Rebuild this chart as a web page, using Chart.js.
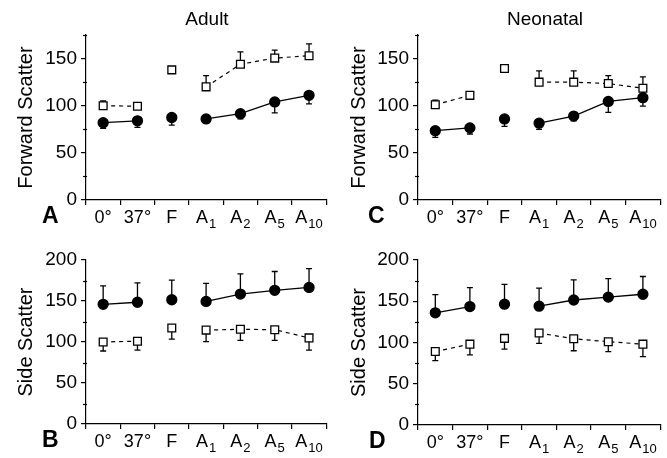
<!DOCTYPE html>
<html><head><meta charset="utf-8">
<script src="https://cdn.jsdelivr.net/npm/chart.js@4"></script>
<style>
html,body{margin:0;padding:0;background:#fff;width:667px;height:458px;overflow:hidden}
canvas{position:absolute}
</style></head><body>
<canvas id="cA" width="333" height="240" style="left:0;top:0"></canvas>
<canvas id="cC" width="334" height="240" style="left:333px;top:0"></canvas>
<canvas id="cB" width="333" height="229" style="left:0;top:229px"></canvas>
<canvas id="cD" width="334" height="229" style="left:333px;top:229px"></canvas>
<script>
// ---- data ----
const xLabels = ['0°', '37°', 'F', 'A₁', 'A₂', 'A₅', 'A₁₀'];

// Forward scatter, adult (panel A)
const fscAdultFilled = [82, 84, 87.5, 86, 91.5, 104, 111];
const fscAdultFilledErr = [6, 7, 8, 4, 5.5, 11.5, 9];
const fscAdultOpen = [100, 99.5, 138, 120, 144, 150.5, 153];
const fscAdultOpenErr = [5, 2, 0, 12, 13, 8.5, 12.5];

// Forward scatter, neonatal (panel C)
const fscNeoFilled = [73.5, 76.5, 86, 81.5, 89, 104.5, 108.5];
const fscNeoFilledErr = [7, 6.5, 8, 6.5, 5, 11.5, 9];
const fscNeoOpen = [101, 111, 139.5, 125, 125, 123.5, 118.5];
const fscNeoOpenErr = [5, 2, 0, 12, 12, 8.5, 12];

// Side scatter, adult (panel B)
const sscAdultFilled = [146, 148.5, 151.5, 149.5, 158.5, 163, 166.5];
const sscAdultFilledErr = [22.5, 23.5, 24, 22, 24.5, 23, 23];
const sscAdultOpen = [100, 101, 117, 114.5, 115.5, 115, 105];
const sscAdultOpenErr = [11, 11, 13.5, 14, 13.5, 13, 15];

// Side scatter, neonatal (panel D)
const sscNeoFilled = [136, 143.5, 146.5, 144, 151.5, 155, 158.5];
const sscNeoFilledErr = [22, 23, 24, 22, 24.5, 22.5, 21.5];
const sscNeoOpen = [89, 98, 105, 111.5, 104.5, 101, 98];
const sscNeoOpenErr = [11, 13, 13, 12.5, 14.5, 12, 15];

// ---- drawing ----
const FONT = "'Liberation Sans', Arial, Helvetica, sans-serif";
const SUB = '₀₁₂₃₄₅₆₇₈₉';

const panelPlugin = {
  id: 'panelDeco',
  beforeDatasetsDraw(chart) {
    const ctx = chart.ctx, ys = chart.scales.y;
    // minor y ticks (shorter)
    ctx.save();
    ctx.strokeStyle = '#000'; ctx.lineWidth = 1.2;
    ys.ticks.forEach(t => {
      if (t.value % 50 === 0) return;
      const y = Math.round(ys.getPixelForValue(t.value)) + 0.5;
      ctx.beginPath(); ctx.moveTo(ys.right - 3, y); ctx.lineTo(ys.right + 1, y); ctx.stroke();
    });
    ctx.restore();
    chart.data.datasets.forEach((ds, i) => {
      if (!ds.errors) return;
      const meta = chart.getDatasetMeta(i);
      ctx.save();
      ctx.strokeStyle = '#000'; ctx.lineWidth = 1.3; ctx.setLineDash([]);
      meta.data.forEach((pt, j) => {
        const e = ds.errors[j];
        if (!e) return;
        const v = ds.data[j];
        const y0 = ys.getPixelForValue(v), y1 = ys.getPixelForValue(v + ds.errDir * e);
        ctx.beginPath();
        ctx.moveTo(pt.x, y0); ctx.lineTo(pt.x, y1);
        ctx.moveTo(pt.x - 3, y1); ctx.lineTo(pt.x + 3, y1);
        ctx.stroke();
      });
      ctx.restore();
    });
  },
  afterDraw(chart, args, opts) {
    const ctx = chart.ctx, xs = chart.scales.x, area = chart.chartArea;
    ctx.save();
    ctx.fillStyle = '#000';
    ctx.textBaseline = 'alphabetic';
    chart.data.labels.forEach((lab, i) => {
      let main = '', sub = '';
      for (const ch of lab) { const k = SUB.indexOf(ch); if (k >= 0) sub += k; else main += ch; }
      ctx.font = `18px ${FONT}`; const wm = ctx.measureText(main).width;
      ctx.font = `13px ${FONT}`; const ws = sub ? ctx.measureText(sub).width + 1 : 0;
      const x0 = xs.getPixelForValue(i) - (wm + ws) / 2;
      const yb = area.bottom + 23;
      ctx.textAlign = 'left';
      ctx.font = `18px ${FONT}`; ctx.fillText(main, x0, yb);
      if (sub) { ctx.font = `13px ${FONT}`; ctx.fillText(sub, x0 + wm + 1, yb + 5); }
    });
    if (opts.title) {
      ctx.font = `19px ${FONT}`; ctx.textAlign = 'center'; ctx.textBaseline = 'middle';
      ctx.fillText(opts.title, opts.titleX, 19.5);
    }
    if (opts.letter) {
      ctx.font = `bold 23px ${FONT}`; ctx.textAlign = 'left'; ctx.textBaseline = 'alphabetic';
      ctx.fillText(opts.letter, opts.letterX, area.bottom + 23);
    }
    ctx.restore();
  }
};

const gapColor = c => (c.p0DataIndex === 1 || c.p0DataIndex === 2) ? 'rgba(0,0,0,0)' : '#000';

function makeChart(id, cfg) {
  return new Chart(document.getElementById(id), {
    type: 'line',
    data: {
      labels: xLabels,
      datasets: [
        { data: cfg.filled, errors: cfg.filledErr, errDir: cfg.filledDir,
          borderColor: '#000', borderWidth: 1.3, tension: 0, fill: false,
          pointStyle: 'circle', pointRadius: 5, pointBackgroundColor: '#000', pointBorderColor: '#000',
          segment: { borderColor: gapColor } },
        { data: cfg.open, errors: cfg.openErr, errDir: cfg.openDir,
          borderColor: '#000', borderWidth: 1.2, borderDash: [4, 4], tension: 0, fill: false,
          pointStyle: 'rect', pointRadius: 5.5, pointBackgroundColor: '#fff', pointBorderColor: '#000', pointBorderWidth: 1.3,
          segment: { borderColor: gapColor } }
      ]
    },
    options: {
      responsive: false, animation: false, events: [],
      layout: { padding: { top: cfg.top, right: cfg.right, bottom: cfg.padBottom, left: 0 } },
      plugins: {
        legend: { display: false }, tooltip: { enabled: false },
        panelDeco: { title: cfg.title, titleX: cfg.titleX, letter: cfg.letter, letterX: cfg.letterX }
      },
      scales: {
        x: {
          type: 'category', offset: true,
          grid: { offset: true, drawOnChartArea: false, drawTicks: true, tickLength: 5, color: '#000', lineWidth: 1.2 },
          border: { display: true, color: '#000', width: 1.2 },
          ticks: { display: false },
          afterFit: s => { s.height = cfg.xH; }
        },
        y: {
          min: 0, max: cfg.ymax,
          ticks: { stepSize: 25, autoSkip: false, callback: v => (v % 50 === 0 ? String(v) : ''),
                   font: { size: 19, family: FONT }, color: '#000', padding: 4 },
          grid: { drawOnChartArea: false, tickLength: 5, color: '#000', lineWidth: 1.2,
                  tickColor: c => (c.tick && c.tick.value % 50 !== 0) ? 'rgba(0,0,0,0)' : '#000' },
          border: { color: '#000', width: 1.2 },
          title: { display: true, text: cfg.ytitle, font: { size: 20, family: FONT }, color: '#000', padding: { top: 14, bottom: 0 } },
          afterFit: s => { s.width = cfg.yW; }
        }
      }
    },
    plugins: [panelPlugin]
  });
}

makeChart('cA', { filled: fscAdultFilled, filledErr: fscAdultFilledErr, filledDir: -1,
  open: fscAdultOpen, openErr: fscAdultOpenErr, openDir: 1, ymax: 175, ytitle: 'Forward Scatter',
  top: 35, right: 6, padBottom: 11, xH: 29, yW: 86, title: 'Adult', titleX: 207, letter: 'A', letterX: 42 });
makeChart('cC', { filled: fscNeoFilled, filledErr: fscNeoFilledErr, filledDir: -1,
  open: fscNeoOpen, openErr: fscNeoOpenErr, openDir: 1, ymax: 175, ytitle: 'Forward Scatter',
  top: 35, right: 5, padBottom: 11, xH: 29, yW: 85, title: 'Neonatal', titleX: 212, letter: 'C', letterX: 35 });
makeChart('cB', { filled: sscAdultFilled, filledErr: sscAdultFilledErr, filledDir: 1,
  open: sscAdultOpen, openErr: sscAdultOpenErr, openDir: -1, ymax: 200, ytitle: 'Side Scatter',
  top: 31, right: 6, padBottom: 0, xH: 34, yW: 86, letter: 'B', letterX: 42 });
makeChart('cD', { filled: sscNeoFilled, filledErr: sscNeoFilledErr, filledDir: 1,
  open: sscNeoOpen, openErr: sscNeoOpenErr, openDir: -1, ymax: 200, ytitle: 'Side Scatter',
  top: 31, right: 5, padBottom: 0, xH: 33, yW: 85, letter: 'D', letterX: 36 });
</script>
</body></html>
